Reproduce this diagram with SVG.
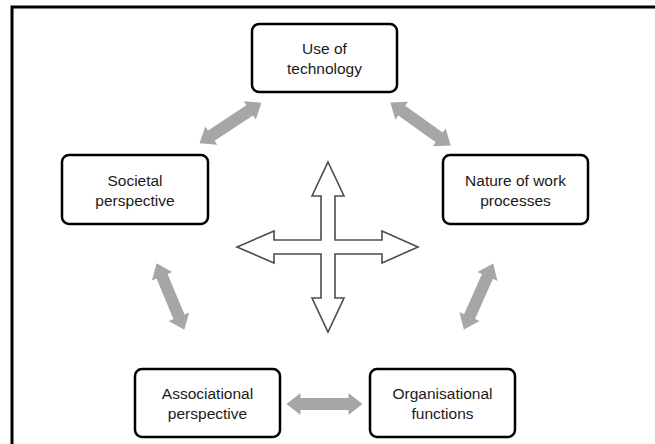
<svg xmlns="http://www.w3.org/2000/svg" width="655" height="444" viewBox="0 0 655 444">
  <style>
    .box { fill: #ffffff; stroke: #000000; stroke-width: 2.5; }
    .lbl { font-family: "Liberation Sans", Arial, sans-serif; font-size: 15.5px; fill: #1a1a1a; text-anchor: middle; }
    .link { fill: #a6a6a6; }
    .cross { fill: #ffffff; stroke: #4d4d4d; stroke-width: 1.6; stroke-linejoin: miter; }
  </style>

  <rect width="655" height="444" fill="#ffffff"/>
  <!-- outer frame (top and left edges) -->
  <path d="M12,444 L12,7 L655,7" fill="none" stroke="#000000" stroke-width="3"/>

  <!-- double-headed links between the themes -->
  <g id="connectors">
    <polygon class="link" transform="translate(230.5,123) rotate(-33.3)" points="-37,0 -23,-11 -23,-6 23,-6 23,-11 37,0 23,11 23,6 -23,6 -23,11"/>
    <polygon class="link" transform="translate(420.5,124) rotate(35.4)" points="-37,0 -23,-11 -23,-6 23,-6 23,-11 37,0 23,11 23,6 -23,6 -23,11"/>
    <polygon class="link" transform="translate(170.5,296.5) rotate(67.4)" points="-36,0 -22,-11 -22,-6 22,-6 22,-11 36,0 22,11 22,6 -22,6 -22,11"/>
    <polygon class="link" transform="translate(478.5,296.5) rotate(114)" points="-36,0 -22,-11 -22,-6 22,-6 22,-11 36,0 22,11 22,6 -22,6 -22,11"/>
    <polygon class="link" transform="translate(324.5,404)" points="-38,0 -24,-11 -24,-6 24,-6 24,-11 38,0 24,11 24,6 -24,6 -24,11"/>
    <!-- four-way arrow in the centre -->
    <path id="cross" class="cross" d="M328,162 L344,196 L335,196 L335,240 L382,240 L382,231 L418,247 L382,263 L382,254 L335,254 L335,298 L344,298 L328,332 L312,298 L321,298 L321,254 L274,254 L274,263 L237,247 L274,231 L274,240 L321,240 L321,196 L312,196 Z"/>
  </g>

  <g id="use-of-technology">
    <rect class="box" x="252" y="24" width="145" height="68" rx="7"/>
    <text class="lbl" x="324.5" y="54">Use of</text>
    <text class="lbl" x="324.5" y="74">technology</text>
  </g>

  <g id="societal-perspective">
    <rect class="box" x="62" y="155" width="146" height="69" rx="7"/>
    <text class="lbl" x="135" y="186">Societal</text>
    <text class="lbl" x="135" y="206">perspective</text>
  </g>

  <g id="nature-of-work">
    <rect class="box" x="443" y="155" width="145" height="69" rx="7"/>
    <text class="lbl" x="515.5" y="186">Nature of work</text>
    <text class="lbl" x="515.5" y="206">processes</text>
  </g>

  <g id="associational-perspective">
    <rect class="box" x="135" y="369" width="145" height="68" rx="7"/>
    <text class="lbl" x="207.5" y="399">Associational</text>
    <text class="lbl" x="207.5" y="419">perspective</text>
  </g>

  <g id="organisational-functions">
    <rect class="box" x="370" y="369" width="145" height="68" rx="7"/>
    <text class="lbl" x="442.5" y="399">Organisational</text>
    <text class="lbl" x="442.5" y="419">functions</text>
  </g>
</svg>
